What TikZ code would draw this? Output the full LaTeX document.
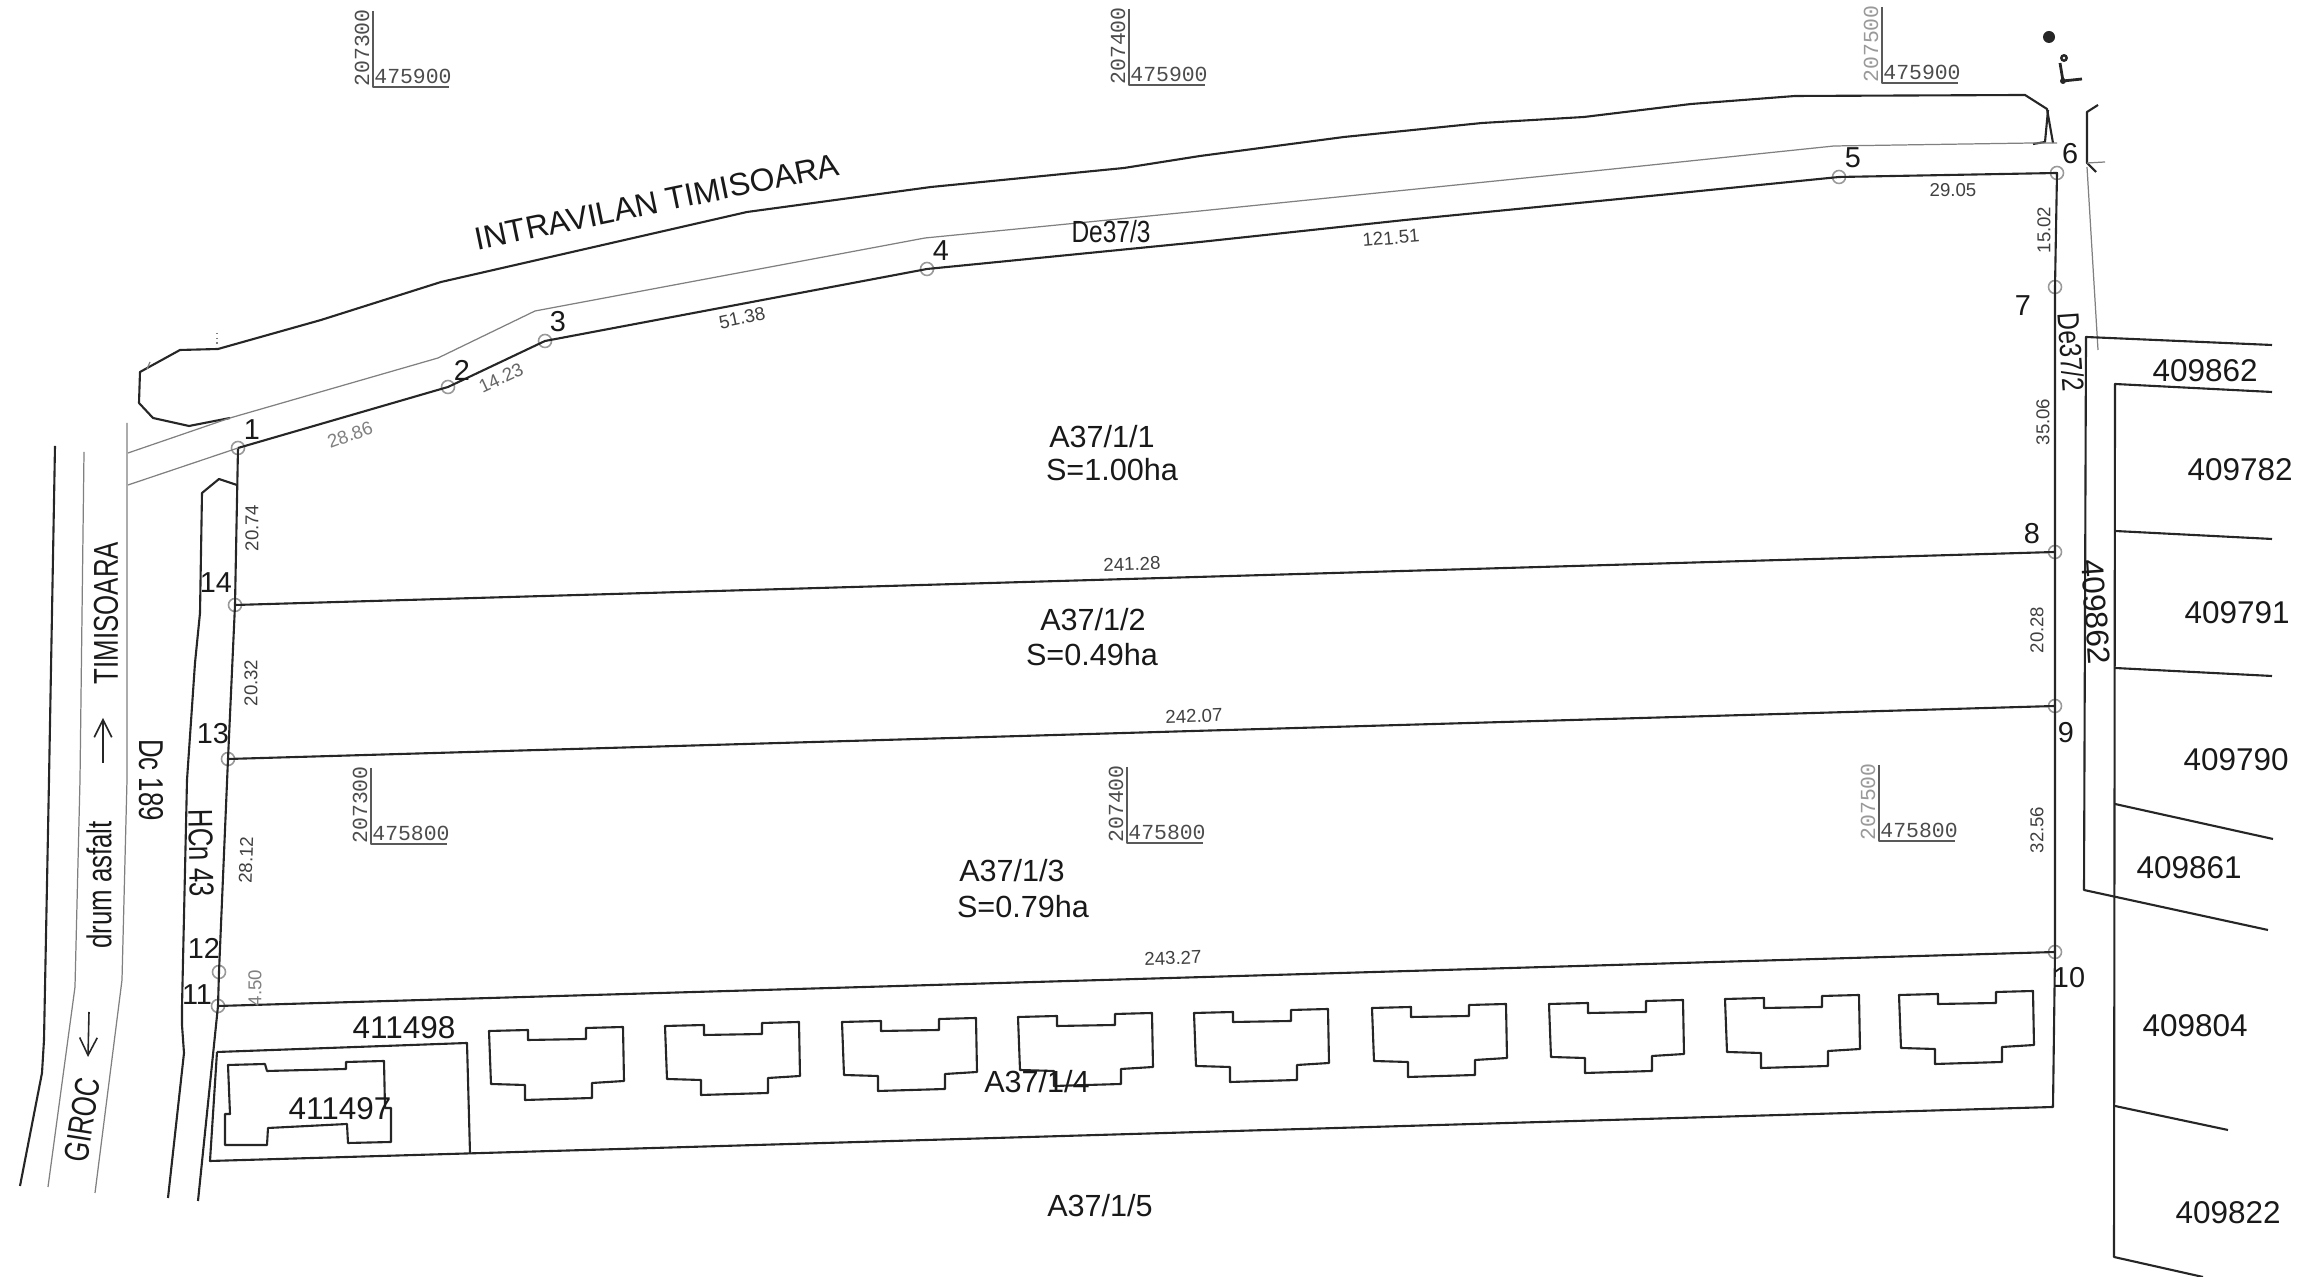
\documentclass[tikz,border=0pt]{standalone}
\usepackage{fontspec}
\setmainfont{Liberation Sans}
\newfontfamily\cadfont{Liberation Mono}
\usetikzlibrary{arrows.meta}
\newcommand{\slim}[2][.75]{\scalebox{#1}[1]{#2}}
\tikzset{
  bline/.style={line width=.6pt,black!85,line join=round},
  gline/.style={line width=.35pt,black!50,line join=round},
  stake/.style={circle,draw=black!40,line width=.45pt,minimum size=.13cm,inner sep=0pt},
  txt/.style={font=\fontsize{8.7}{10}\selectfont,inner sep=0pt,black!90},
  code/.style={font=\fontsize{8.95}{10}\selectfont,inner sep=0pt,black!90},
  tall/.style={font=\fontsize{9.8}{11}\selectfont,inner sep=0pt,black!90},
  nr/.style={font=\fontsize{8.2}{10}\selectfont,inner sep=0pt,black!90},
  dim/.style={font=\fontsize{5.3}{6}\selectfont,inner sep=0pt,black!75},
  gridtxt/.style={font=\cadfont\fontsize{6.1}{7}\selectfont,inner sep=0pt},
  roadarrow/.style={line width=.45pt,black!85,-{Straight Barb[length=5pt,width=5pt]}}}
\begin{document}
\begin{tikzpicture}[x=.01cm,y=-.01cm]
  \useasboundingbox (0,0) rectangle (2314,1277);
  % boundary points
  \foreach \i/\x/\y in {1/238/448,2/448/387,3/545/341,4/927/269,5/1839/177,6/2057/173,7/2055/287,
      8/2055/552,9/2055/706,10/2055/952,11/218/1006,12/219/972,13/228/759,14/235/605}
    \node[stake] (p\i) at (\x,\y) {};
  % parcel
  \draw[bline] (p1.center) -- (p2.center) -- (p3.center) -- (p4.center) -- (1200,242) -- (1405,220)
    -- (1660,195) -- (p5.center) -- (p6.center) -- (p7.center) -- (p8.center) -- (p9.center)
    -- (p10.center) -- (2053,1107) -- (210,1161) -- (217,1052);
  \draw[bline] (p1.center) -- (p14.center) -- (p13.center) -- (p12.center) -- (p11.center) -- (198,1201);
  \draw[bline] (p14.center) -- (p8.center);
  \draw[bline] (p13.center) -- (p9.center);
  \draw[bline] (p11.center) -- (p10.center);
  \draw[bline] (217,1052) -- (467,1043) -- (470,1153);
  % top road
  \draw[bline] (230,418) -- (189,426) -- (153,418) -- (139,403) -- (140,372) -- (180,350) -- (218,349)
    -- (321,320) -- (441,282) -- (747,212) -- (931,187) -- (1124,168) -- (1200,156) -- (1344,137)
    -- (1482,123) -- (1584,117) -- (1691,104) -- (1795,96) -- (2025,95) -- (2047,109) -- (2053,143);
  \draw[bline] (2048,110) -- (2045,142) -- (2033,144);
  \draw[gline] (150,362) -- (147,369);
  \draw[gline,densely dotted] (217,333) -- (217,346);
  \draw[gline] (128,453) -- (230,418) -- (438,358) -- (535,311) -- (925,238) -- (1200,211) -- (1584,172)
    -- (1834,146) -- (2033,143) -- (2057,143);
  \draw[gline] (128,485) -- (p1.center);
  % left roads
  \draw[bline] (55,446) -- (49,780) -- (44,1040) -- (42,1073) -- (20,1186);
  \draw[gline] (84,452) -- (80,780) -- (75,987) -- (48,1187);
  \draw[gline] (127,423) -- (127,780) -- (122,980) -- (95,1193);
  \draw[bline] (237,485) -- (219,479) -- (202,493) -- (200,613) -- (195,663) -- (187,780) -- (182,1007)
    -- (182,1025) -- (184,1053) -- (168,1198);
  % right side
  \draw[bline] (2098,105) -- (2087,112) -- (2087,163) -- (2096,172);
  \draw[gline] (2087,163) -- (2105,162);
  \draw[gline] (2087,167) -- (2098,350);
  \draw[bline] (2272,345) -- (2086,337) -- (2084,890) -- (2268,930);
  \draw[bline] (2272,392) -- (2115,384) -- (2114,1257) -- (2203,1277);
  \draw[bline] (2115,531) -- (2272,539);
  \draw[bline] (2115,668) -- (2272,676);
  \draw[bline] (2115,804) -- (2273,839);
  \draw[bline] (2115,1106) -- (2228,1130);
  % north sign
  \fill[black!85] (2049,37) circle (6);
  \fill[black!85] (2064,58) circle (4);
  \fill[white] (2064,58) circle (1.3);
  \draw[bline,line width=.8pt] (2060,63) -- (2063,81) -- (2082,79);
  \fill[black!85] (2063,81) circle (3);
  % buildings
  \foreach \bx/\by in {489/1031,665/1026,842/1022,1018/1017,1194/1013,1372/1008,1549/1004,1725/999,1899/995}
    \draw[bline] (\bx,\by) -- ++(39,-1) -- ++(0,10) -- ++(58,-1) -- ++(0,-11) -- ++(37,-1) -- ++(1,54)
      -- ++(-32,2) -- ++(0,15) -- ++(-67,2) -- ++(0,-15) -- ++(-34,-1) -- cycle;
  \draw[bline] (228,1065) -- (265,1064) -- (267,1071) -- (346,1069) -- (346,1062) -- (384,1061) -- (385,1108)
    -- (391,1108) -- (391,1142) -- (348,1143) -- (347,1124) -- (268,1128) -- (267,1145) -- (225,1145)
    -- (225,1114) -- (230,1114) -- cycle;
  % grid marks
  \foreach \gx/\gy/\ge/\gn/\gc in {373/87/207300/475900/black!70,1129/85/207400/475900/black!70,
      1882/83/207500/475900/black!40,371/844/207300/475800/black!70,1127/843/207400/475800/black!70,
      1879/841/207500/475800/black!40}{
    \draw[gline,black!65] (\gx,\gy-76) -- (\gx,\gy) -- (\gx+76,\gy);
    \node[gridtxt,black!70] (n\ge\gn) at (\gx+40,\gy-11) {\gn};
    \node[gridtxt,\gc,rotate=90] (e\ge\gn) at (\gx-11,\gy-39) {\ge};
  }
  % point numbers
  \foreach \i/\x/\y in {1/252/430,2/462/370,3/558/322,4/941/251,5/1853/158,6/2070/154,7/2023/306,
      8/2032/534,9/2066/733,10/2069/978,11/197/995,12/204/948,13/213/734,14/216/583}
    \node[nr] (nr\i) at (\x,\y) {\i};
  % lengths
  \node[dim,black!50,rotate=20] (d1) at (350,435) {28.86};
  \node[dim,black!60,rotate=25] (d2) at (501,378) {14.23};
  \node[dim,rotate=12] (d3) at (742,318) {51.38};
  \node[dim,rotate=5] (d4) at (1391,238) {121.51};
  \node[dim] (d5) at (1953,190) {29.05};
  \node[dim,rotate=90] (d6) at (2044,230) {15.02};
  \node[dim,rotate=90] (d7) at (2043,422) {35.06};
  \node[dim,rotate=90] (d8) at (2037,630) {20.28};
  \node[dim,rotate=90] (d9) at (2037,830) {32.56};
  \node[dim,rotate=2] (d10) at (1132,564) {241.28};
  \node[dim,rotate=2] (d11) at (1194,716) {242.07};
  \node[dim,rotate=2] (d12) at (1173,958) {243.27};
  \node[dim,rotate=90] (d13) at (252,528) {20.74};
  \node[dim,rotate=90] (d14) at (251,683) {20.32};
  \node[dim,rotate=88] (d15) at (246,860) {28.12};
  \node[dim,black!50,rotate=90] (d16) at (255,988) {4.50};
  % lots
  \node[txt] (lot1) at (1102,437) {A37/1/1};
  \node[txt] (area1) at (1112,470) {S=1.00ha};
  \node[txt] (lot2) at (1093,620) {A37/1/2};
  \node[txt] (area2) at (1092,655) {S=0.49ha};
  \node[txt] (lot3) at (1012,871) {A37/1/3};
  \node[txt] (area3) at (1023,907) {S=0.79ha};
  \node[txt] (lot4) at (1037,1082) {A37/1/4};
  \node[txt] (lot5) at (1100,1206) {A37/1/5};
  \node[code] (c411498) at (404,1028) {411498};
  \node[code] (c411497) at (340,1109) {411497};
  \node[code] (c409862) at (2205,371) {409862};
  \node[code] (c409782) at (2240,470) {409782};
  \node[code] (c409791) at (2237,613) {409791};
  \node[code] (c409790) at (2236,760) {409790};
  \node[code] (c409861) at (2189,868) {409861};
  \node[code] (c409804) at (2195,1026) {409804};
  \node[code] (c409822) at (2228,1213) {409822};
  \node[code,rotate=-86] (road409862) at (2096,612) {409862};
  % road names
  \node[txt,font=\fontsize{9.1}{10}\selectfont,rotate=11.7] (intra) at (657,202) {INTRAVILAN TIMISOARA};
  \node[txt] (de373) at (1111,232) {\slim[.8]{De37/3}};
  \node[txt,rotate=-86] (de372) at (2071,352) {\slim[.8]{De37/2}};
  \node[tall,rotate=90] (tim) at (106,613) {\slim{TIMISOARA}};
  \node[tall,rotate=90] (drum) at (99,885) {\slim{drum asfalt}};
  \node[tall,rotate=81] (giroc) at (82,1120) {\slim{GIROC}};
  \node[tall,rotate=-90] (dc189) at (151,780) {\slim{Dc 189}};
  \node[tall,rotate=-89] (hcn43) at (201,853) {\slim{HCn 43}};
  % directions
  \coordinate (upa) at (103,763);
  \coordinate (upb) at (103,718);
  \coordinate (dna) at (89,1012);
  \coordinate (dnb) at (88,1057);
  \draw[roadarrow] (upa) -- (upb);
  \draw[roadarrow] (dna) -- (dnb);
\end{tikzpicture}
\end{document}
